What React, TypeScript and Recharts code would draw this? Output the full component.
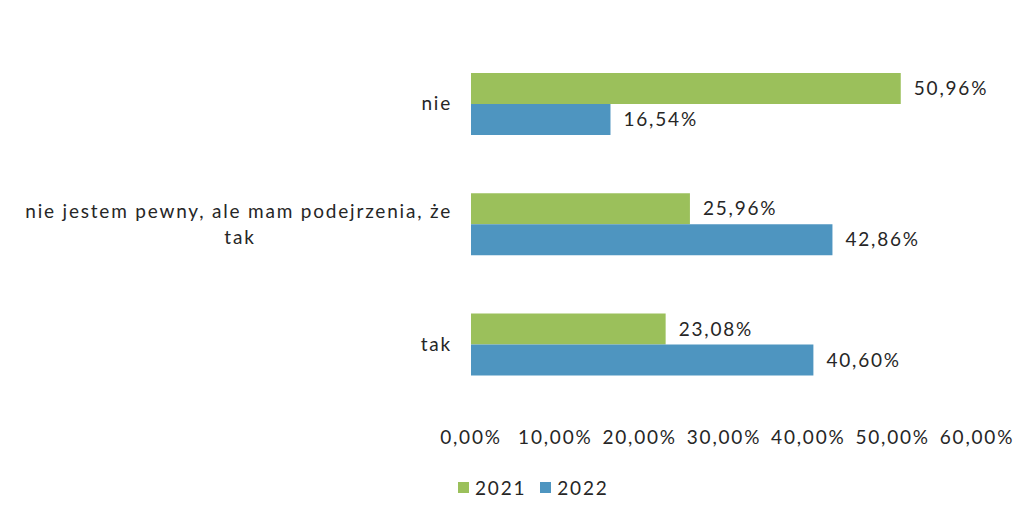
import { BarChart, Bar, XAxis, YAxis, Legend, LabelList } from 'recharts';

const CATEGORIES = ['nie', 'nie jestem pewny, ale mam podejrzenia, że tak', 'tak'];
const VALUES_2021 = [50.96, 25.96, 23.08];
const VALUES_2022 = [16.54, 42.86, 40.6];
const X_TICKS = [0, 10, 20, 30, 40, 50, 60];

const GREEN = '#9BC05B';
const BLUE = '#4E95C0';
const TEXT = '#262626';
const FONT = 'Lato, "Noto Sans", sans-serif';
const FONT_SIZE = 19;
const SPACING = 1.8;

const chartData = CATEGORIES.map((name, i) => ({
  name,
  y2021: VALUES_2021[i],
  y2022: VALUES_2022[i],
}));

function formatPct(v: number): string {
  return `${v.toFixed(2).replace('.', ',')}%`;
}

// wrap long category names the way Excel does: first line right-aligned, rest centered under it
function CategoryTick(props: any) {
  const { x, y, payload } = props;
  const label: string = payload.value;
  const textProps = { fill: TEXT, fontSize: FONT_SIZE, fontFamily: FONT, letterSpacing: SPACING };
  if (label.length < 30) {
    return (
      <text x={x} y={y} dy={6} textAnchor="end" {...textProps}>
        {label}
      </text>
    );
  }
  const cut = label.lastIndexOf(' ');
  const first = label.slice(0, cut);
  const second = label.slice(cut + 1);
  return (
    <g>
      <text x={x} y={y} dy={-7} textAnchor="end" {...textProps}>
        {first}
      </text>
      <text x={x - 212} y={y} dy={19} textAnchor="middle" {...textProps}>
        {second}
      </text>
    </g>
  );
}

function SimpleLegend() {
  const items = [
    { label: '2021', color: GREEN },
    { label: '2022', color: BLUE },
  ];
  return (
    <div style={{ display: 'flex', gap: 14, fontFamily: FONT, fontSize: FONT_SIZE, letterSpacing: SPACING, color: TEXT }}>
      {items.map((it) => (
        <div key={it.label} style={{ display: 'flex', alignItems: 'center', gap: 6 }}>
          <span style={{ width: 11, height: 11, background: it.color, display: 'inline-block' }} />
          <span>{it.label}</span>
        </div>
      ))}
    </div>
  );
}

export default function App() {
  return (
    <div style={{ position: 'absolute', left: 0, top: 0, background: '#fff' }}>
      <BarChart
        width={1032}
        height={519}
        data={chartData}
        layout="vertical"
        margin={{ top: 44, right: 55, bottom: 42, left: 0 }}
        barCategoryGap="24%"
        barGap={0}
      >
        <XAxis
          type="number"
          domain={[0, 60]}
          ticks={X_TICKS}
          tickFormatter={formatPct}
          axisLine={false}
          tickLine={false}
          tickMargin={20}
          height={44}
          tick={{ fill: TEXT, fontSize: FONT_SIZE, fontFamily: FONT, letterSpacing: SPACING }}
          interval={0}
        />
        <YAxis
          type="category"
          dataKey="name"
          width={471}
          axisLine={false}
          tickLine={false}
          tickMargin={13}
          tick={<CategoryTick />}
          interval={0}
        />
        <Legend
          verticalAlign="bottom"
          content={<SimpleLegend />}
          wrapperStyle={{ position: 'absolute', left: 458, top: 476, width: 220, height: 28 }}
        />
        <Bar dataKey="y2021" name="2021" fill={GREEN} isAnimationActive={false}>
          <LabelList
            dataKey="y2021"
            position="right"
            offset={13}
            formatter={(v: any) => formatPct(Number(v))}
            style={{ fill: TEXT, fontSize: FONT_SIZE, fontFamily: FONT, letterSpacing: SPACING }}
          />
        </Bar>
        <Bar dataKey="y2022" name="2022" fill={BLUE} isAnimationActive={false}>
          <LabelList
            dataKey="y2022"
            position="right"
            offset={13}
            formatter={(v: any) => formatPct(Number(v))}
            style={{ fill: TEXT, fontSize: FONT_SIZE, fontFamily: FONT, letterSpacing: SPACING }}
          />
        </Bar>
      </BarChart>
    </div>
  );
}
